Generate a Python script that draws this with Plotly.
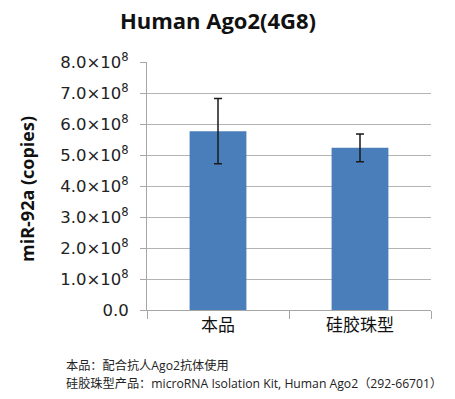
import plotly.graph_objects as go

categories = ["本品", "硅胶珠型"]
values = [5.77e8, 5.23e8]
errors = [1.05e8, 0.45e8]
tick_vals = [0, 1e8, 2e8, 3e8, 4e8, 5e8, 6e8, 7e8, 8e8]
tick_text = ["0.0"] + [f"{i}.0×10<sup>8</sup>" for i in range(1, 9)]
title_text = "Human Ago2(4G8)"
y_title = "miR-92a (copies)"
notes = ["本品：配合抗人Ago2抗体使用",
         "硅胶珠型产品：microRNA Isolation Kit, Human Ago2（292-66701）"]

W, H = 455, 399
L, R, T, B = 147, 431, 62, 310
pw, ph = R - L, B - T

fig = go.Figure()
fig.add_trace(go.Bar(
    x=categories, y=values,
    marker=dict(color="#4a7ebb", line=dict(width=0)),
    width=0.4,
    error_y=dict(type="data", array=errors, visible=True,
                 color="#1a1a1a", thickness=1.5, width=4),
))

def px_x(p):
    return (p - L) / pw

def px_y(p):
    return (B - p) / ph

annos = []
for i, (t, py) in enumerate(zip(notes, [365, 383])):
    annos.append(dict(text=t, xref="paper", yref="paper", x=px_x(64), y=px_y(py),
                      xanchor="left", yanchor="middle", showarrow=False,
                      font=dict(family="Open Sans, Noto Sans CJK SC", size=12.2, color="#222")))
annos.append(dict(text="<b>" + y_title + "</b>", xref="paper", yref="paper",
                  x=px_x(27), y=px_y(189), textangle=-90, showarrow=False,
                  xanchor="center", yanchor="middle",
                  font=dict(family="Open Sans", size=18, color="#111")))

fig.update_layout(
    width=W, height=H,
    margin=dict(l=L, r=W - R, t=T, b=H - B, pad=0),
    paper_bgcolor="white", plot_bgcolor="white",
    showlegend=False,
    title=dict(text="<b>" + title_text + "</b>", x=218 / W, xanchor="center",
               y=1 - 21 / H, yanchor="middle",
               font=dict(family="Open Sans", size=22, color="#111")),
    annotations=annos,
    xaxis=dict(showline=True, linecolor="#a6a6a6", linewidth=1,
               ticks="outside", tickson="boundaries", ticklen=8, tickcolor="#a6a6a6",
               tickfont=dict(family="Noto Sans CJK SC", size=17, color="#111"),
               showgrid=False, fixedrange=True),
    yaxis=dict(range=[0, 8e8], tickvals=tick_vals, ticktext=tick_text,
               showline=True, linecolor="#a6a6a6", linewidth=1,
               ticks="outside", ticklen=6, tickcolor="#a6a6a6",
               ticklabelstandoff=8,
               tickfont=dict(family="DejaVu Sans", size=16.5, color="#222"),
               showgrid=True, gridcolor="#b4b4b4", gridwidth=1,
               zeroline=False),
)

fig.write_html("out.html", config={"displayModeBar": False},
               post_script="document.body.style.margin='0';document.body.style.padding='0';")
